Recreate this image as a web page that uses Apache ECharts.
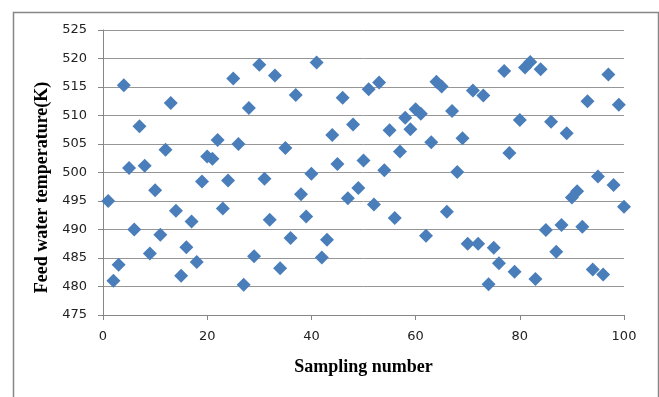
<!DOCTYPE html>
<html>
<head>
<meta charset="utf-8">
<script src="https://cdn.jsdelivr.net/npm/echarts@6/dist/echarts.min.js"></script>
<style>html,body{margin:0;padding:0;background:#fff}#c{width:659px;height:397px}</style>
</head>
<body>
<div id="c"></div>
<script>
var sampleNumbers = [];
for (var i = 1; i <= 100; i++) sampleNumbers.push(i);
var temperatures = [
  495.0, 481.0, 483.8, 515.3, 500.8, 490.0, 508.1, 501.2, 485.8, 496.9,
  489.1, 504.0, 512.2, 493.3, 481.9, 486.9, 491.4, 484.3, 498.4, 502.8,
  502.4, 505.7, 493.7, 498.6, 516.5, 505.0, 480.3, 511.3, 485.3, 518.9,
  498.9, 491.7, 517.0, 483.2, 504.3, 488.5, 513.6, 496.2, 492.3, 499.8,
  519.3, 485.1, 488.2, 506.6, 501.5, 513.1, 495.5, 508.4, 497.3, 502.1,
  514.6, 494.4, 515.8, 500.4, 507.4, 492.0, 503.7, 509.6, 507.6, 511.1,
  510.3, 488.9, 505.3, 515.9, 515.1, 493.1, 510.8, 500.1, 506.0, 487.5,
  514.4, 487.5, 513.5, 480.4, 486.8, 484.1, 517.8, 503.4, 482.6, 509.2,
  518.4, 519.4, 481.3, 518.1, 489.9, 508.9, 486.1, 490.8, 506.9, 495.6,
  496.7, 490.5, 512.5, 483.0, 499.3, 482.1, 517.2, 497.8, 511.9, 494.0
];
var xTitle = 'Sampling number';
var yTitle = 'Feed water temperature(K)';

var data = sampleNumbers.map(function (x, i) { return [x, temperatures[i]]; });
var chart = echarts.init(document.getElementById('c'), null, {renderer: 'canvas'});
chart.setOption({
  animation: false,
  backgroundColor: '#fff',
  graphic: [{
    type: 'rect', left: 11, top: 10, z: -10,
    shape: {width: 645, height: 400},
    style: {fill: 'none', stroke: '#868686', lineWidth: 1.5}
  }],
  grid: {left: 103, right: 35, top: 30, bottom: 82},
  xAxis: {
    type: 'value', min: 0, max: 100, interval: 20,
    name: xTitle, nameLocation: 'middle', nameGap: 43,
    nameTextStyle: {fontFamily: 'Liberation Serif', fontWeight: 'bold', fontSize: 18, color: '#000'},
    axisLine: {show: true, lineStyle: {color: '#868686', width: 1}},
    axisTick: {show: true, length: 5, lineStyle: {color: '#868686'}},
    axisLabel: {fontFamily: 'DejaVu Sans', fontSize: 13, color: '#222', margin: 15},
    splitLine: {show: false}
  },
  yAxis: {
    type: 'value', min: 475, max: 525, interval: 5,
    name: yTitle, nameLocation: 'middle', nameGap: 47,
    nameTextStyle: {fontFamily: 'Liberation Serif', fontWeight: 'bold', fontSize: 18, color: '#000', padding: [0, 30, 0, 0]},
    axisLine: {show: true, lineStyle: {color: '#868686', width: 1}},
    axisTick: {show: true, length: 5, lineStyle: {color: '#868686'}},
    axisLabel: {fontFamily: 'DejaVu Sans', fontSize: 13, color: '#222', margin: 16},
    splitLine: {show: true, lineStyle: {color: '#969696', width: 1}}
  },
  series: [{
    type: 'scatter',
    data: data,
    symbol: 'diamond',
    symbolSize: 14,
    itemStyle: {color: '#4a7ebb', opacity: 1}
  }]
});
</script>
</body>
</html>
